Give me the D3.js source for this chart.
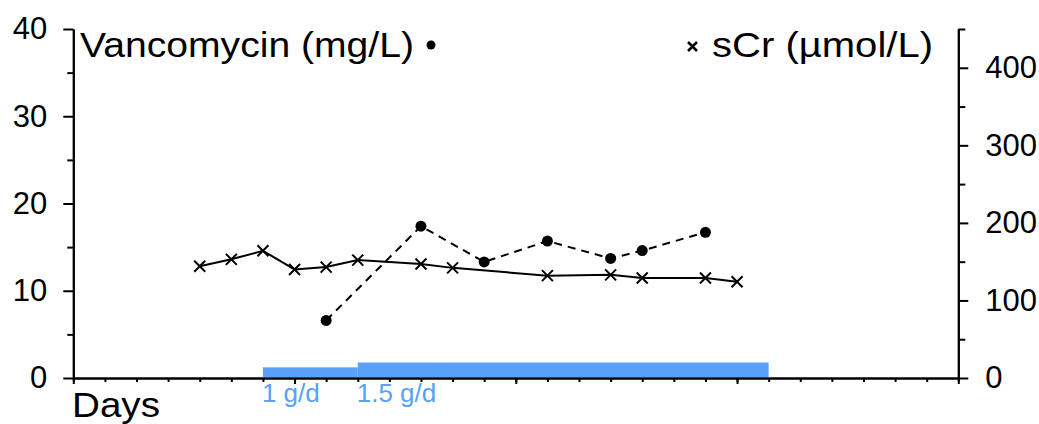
<!DOCTYPE html>
<html>
<head>
<meta charset="utf-8">
<script src="https://cdn.jsdelivr.net/npm/d3@7"></script>
<style>
  body { margin: 0; background: #fff; }
  svg text { font-family: Arial, "Liberation Sans", sans-serif; }
</style>
</head>
<body>
<div id="chart"></div>
<script>
// data
const scrDays = [4, 5, 6, 7, 8, 9, 11, 12, 15, 17, 18, 20, 21];
const scrValues = [144, 153, 164, 140, 143, 152, 147, 142, 132, 133, 129, 129, 124];
const vancoDays = [8, 11, 13, 15, 17, 18, 20];
const vancoValues = [6.6, 17.4, 13.3, 15.7, 13.7, 14.6, 16.7];
const doseLabels = ["1 g/d", "1.5 g/d"];
const doseStart = [6, 9];
const doseEnd = [9, 22];
const doseAmount = [1, 1.5];
const leftTicks = [0, 10, 20, 30, 40];
const rightTicks = [0, 100, 200, 300, 400];

const W = 1039, H = 424;
const blue = "#57a2f8";

const svg = d3.select("#chart").append("svg")
  .attr("width", W).attr("height", H);

const x = d3.scaleLinear().domain([0, 28]).range([73.3, 958.3]);
const yL = d3.scaleLinear().domain([0, 40]).range([378, 29]);
const yR = d3.scaleLinear().domain([0, 450]).range([378, 29]);
const yDose = d3.scaleLinear().domain([0, 1.5]).range([377, 362.5]);

// left axis: minor then major
svg.append("g").attr("transform", "translate(" + x(0) + ",0)")
  .call(d3.axisLeft(yL).tickValues([5, 15, 25, 35]).tickSize(6).tickSizeOuter(0).tickFormat(""));
svg.append("g").attr("class", "ax").attr("transform", "translate(" + x(0) + ",0)")
  .call(d3.axisLeft(yL).tickValues(leftTicks).tickSize(10).tickSizeOuter(0).tickPadding(16));

// right axis
svg.append("g").attr("transform", "translate(" + x(28) + ",0)")
  .call(d3.axisRight(yR).tickValues([50, 150, 250, 350, 450]).tickSize(7).tickSizeOuter(0).tickFormat(""));
svg.append("g").attr("class", "ax").attr("transform", "translate(" + x(28) + ",0)")
  .call(d3.axisRight(yR).tickValues(rightTicks).tickSize(10).tickSizeOuter(0).tickPadding(17));

// x axis: daily ticks, weekly longer
svg.append("g").attr("transform", "translate(0," + yL(0) + ")")
  .call(d3.axisBottom(x).tickValues(d3.range(0, 29)).tickSize(4).tickSizeOuter(0).tickFormat(""));
svg.append("g").attr("transform", "translate(0," + yL(0) + ")")
  .call(d3.axisBottom(x).tickValues([0, 7, 14, 21, 28]).tickSize(6).tickSizeOuter(0).tickFormat(""));

svg.selectAll(".domain, .tick line").attr("stroke", "#000").attr("stroke-width", 2);
svg.selectAll(".ax .tick text").attr("font-size", 31).attr("fill", "#000");

// dose bars
const doses = doseLabels.map((d, i) => ({ label: d, s: doseStart[i], e: doseEnd[i], a: doseAmount[i] }));
svg.selectAll(".dose").data(doses).enter().append("rect")
  .attr("x", d => x(d.s)).attr("width", d => x(d.e) - x(d.s))
  .attr("y", d => yDose(d.a)).attr("height", d => yDose(0) - yDose(d.a))
  .attr("fill", blue);
svg.selectAll(".doseLabel").data(doses).enter().append("text")
  .attr("x", d => x(d.s) - 1).attr("y", 401.5)
  .attr("font-size", 26).attr("fill", blue)
  .text(d => d.label);

// sCr series
const scr = scrDays.map((d, i) => ({ d: d, v: scrValues[i] }));
svg.append("path").datum(scr)
  .attr("d", d3.line().x(p => x(p.d)).y(p => yR(p.v)))
  .attr("fill", "none").attr("stroke", "#000").attr("stroke-width", 2);
svg.selectAll(".cross").data(scr).enter().append("path")
  .attr("transform", p => "translate(" + x(p.d) + "," + yR(p.v) + ")")
  .attr("d", "M-5.5,-5.5L5.5,5.5M-5.5,5.5L5.5,-5.5")
  .attr("stroke", "#000").attr("stroke-width", 2);

// vancomycin series
const vanco = vancoDays.map((d, i) => ({ d: d, v: vancoValues[i] }));
svg.append("path").datum(vanco)
  .attr("d", d3.line().x(p => x(p.d)).y(p => yL(p.v)))
  .attr("fill", "none").attr("stroke", "#000").attr("stroke-width", 2)
  .attr("stroke-dasharray", "8,6");
svg.selectAll(".dot").data(vanco).enter().append("circle")
  .attr("cx", p => x(p.d)).attr("cy", p => yL(p.v)).attr("r", 5.5)
  .attr("fill", "#000");

// legends / titles (slightly stretched like the original)
svg.append("text").attr("x", 80).attr("y", 57).attr("font-size", 35)
  .attr("textLength", 334).attr("lengthAdjust", "spacingAndGlyphs")
  .text("Vancomycin (mg/L)");
svg.append("circle").attr("cx", 431).attr("cy", 45).attr("r", 4.5).attr("fill", "#000");
svg.append("path").attr("transform", "translate(692.5,46.5)")
  .attr("d", "M-4.5,-4.5L4.5,4.5M-4.5,4.5L4.5,-4.5")
  .attr("stroke", "#000").attr("stroke-width", 2.6);
svg.append("text").attr("x", 712).attr("y", 57).attr("font-size", 35)
  .attr("textLength", 221).attr("lengthAdjust", "spacingAndGlyphs")
  .text("sCr (µmol/L)");
svg.append("text").attr("x", 72).attr("y", 417).attr("font-size", 35)
  .attr("textLength", 88).attr("lengthAdjust", "spacingAndGlyphs")
  .text("Days");
</script>
</body>
</html>
